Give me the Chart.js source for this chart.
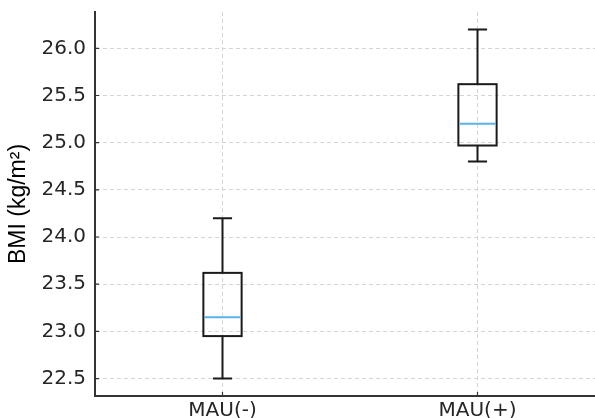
<!DOCTYPE html>
<html>
<head>
<meta charset="utf-8">
<script src="https://cdn.jsdelivr.net/npm/chart.js@4"></script>
<style>
  html, body { margin: 0; padding: 0; background: #fff; overflow: hidden; }
  #wrap { width: 605px; height: 418px; }
</style>
</head>
<body>
<div id="wrap"><canvas id="bmiChart"></canvas></div>
<script>
// Categories
var groups = ['MAU(-)', 'MAU(+)'];

// Box plot values per group
var whiskerLow  = [22.5, 24.8];
var quartile1   = [22.95, 24.97];
var medians     = [23.15, 25.2];
var quartile3   = [23.62, 25.62];
var whiskerHigh = [24.2, 26.2];

// Y tick values
var yTicks = [22.5, 23.0, 23.5, 24.0, 24.5, 25.0, 25.5, 26.0];

// Draws the boxes, whiskers and medians through the chart scales
var boxPlotPlugin = {
    id: 'boxPlot',
    afterDatasetsDraw: function (chart) {
        var ctx = chart.ctx;
        var xs = chart.scales.x;
        var ys = chart.scales.y;

        ctx.save();
        groups.forEach(function (name, i) {
            var pos = i + 1;
            var x = xs.getPixelForValue(pos);
            var boxL = xs.getPixelForValue(pos - 0.075);
            var boxR = xs.getPixelForValue(pos + 0.075);
            var capL = xs.getPixelForValue(pos - 0.0375);
            var capR = xs.getPixelForValue(pos + 0.0375);

            var yLo = ys.getPixelForValue(whiskerLow[i]);
            var yQ1 = ys.getPixelForValue(quartile1[i]);
            var yMed = ys.getPixelForValue(medians[i]);
            var yQ3 = ys.getPixelForValue(quartile3[i]);
            var yHi = ys.getPixelForValue(whiskerHigh[i]);

            ctx.strokeStyle = '#1a1a1a';
            ctx.lineWidth = 2;

            // Box
            ctx.strokeRect(boxL, yQ3, boxR - boxL, yQ1 - yQ3);

            // Whiskers and caps
            ctx.beginPath();
            ctx.moveTo(x, yQ1); ctx.lineTo(x, yLo);
            ctx.moveTo(x, yQ3); ctx.lineTo(x, yHi);
            ctx.moveTo(capL, yLo); ctx.lineTo(capR, yLo);
            ctx.moveTo(capL, yHi); ctx.lineTo(capR, yHi);
            ctx.stroke();

            // Median
            ctx.strokeStyle = '#56b4e9';
            ctx.beginPath();
            ctx.moveTo(boxL + 1, yMed); ctx.lineTo(boxR - 1, yMed);
            ctx.stroke();
        });

        // Short inward tick marks on both axes
        ctx.strokeStyle = '#333';
        ctx.lineWidth = 1.2;
        ctx.beginPath();
        yTicks.forEach(function (v) {
            var y = ys.getPixelForValue(v);
            ctx.moveTo(xs.left, y); ctx.lineTo(xs.left + 4, y);
        });
        groups.forEach(function (g, i) {
            var x = xs.getPixelForValue(i + 1);
            ctx.moveTo(x, ys.bottom); ctx.lineTo(x, ys.bottom - 4);
        });
        ctx.stroke();
        ctx.restore();
    }
};

var ctx = document.getElementById('bmiChart').getContext('2d');
window.myBox = new Chart(ctx, {
    type: 'scatter',
    data: {
        datasets: [{
            data: medians.map(function (m, i) { return { x: i + 1, y: m }; }),
            pointRadius: 0,
            pointHoverRadius: 0
        }]
    },
    options: {
        responsive: true,
        maintainAspectRatio: false,
        animation: false,
        layout: {
            padding: { top: 12, left: 0, right: 0, bottom: 0 }
        },
        plugins: {
            legend: { display: false },
            tooltip: { enabled: false }
        },
        scales: {
            x: {
                type: 'linear',
                min: 0.5,
                max: 2.5,
                afterFit: function (scale) {
                    scale.height = 22;
                    scale.paddingLeft = 0;
                    scale.paddingRight = 0;
                },
                afterBuildTicks: function (scale) {
                    scale.ticks = groups.map(function (g, i) { return { value: i + 1 }; });
                },
                ticks: {
                    color: '#262626',
                    padding: 3,
                    maxRotation: 0,
                    font: { size: 20, family: 'DejaVu Sans' },
                    callback: function (v) { return groups[v - 1]; }
                },
                grid: {
                    color: '#d4d4d4',
                    drawTicks: false
                },
                border: {
                    display: true,
                    color: '#333',
                    width: 2,
                    dash: [4, 3]
                }
            },
            y: {
                min: 22.315,
                max: 26.385,
                afterFit: function (scale) {
                    scale.width = 95;
                    scale.paddingTop = 0;
                    scale.paddingBottom = 0;
                },
                afterBuildTicks: function (scale) {
                    scale.ticks = yTicks.map(function (v) { return { value: v }; });
                },
                title: {
                    display: true,
                    text: 'BMI (kg/m²)',
                    color: '#000',
                    font: { size: 23, family: 'Liberation Sans' },
                    padding: { top: 5, bottom: 0 }
                },
                ticks: {
                    color: '#262626',
                    padding: 9,
                    font: { size: 20, family: 'DejaVu Sans' },
                    callback: function (v) { return v.toFixed(1); }
                },
                grid: {
                    color: '#d4d4d4',
                    drawTicks: false
                },
                border: {
                    display: true,
                    color: '#333',
                    width: 2,
                    dash: [4, 3]
                }
            }
        }
    },
    plugins: [boxPlotPlugin]
});
</script>
</body>
</html>
